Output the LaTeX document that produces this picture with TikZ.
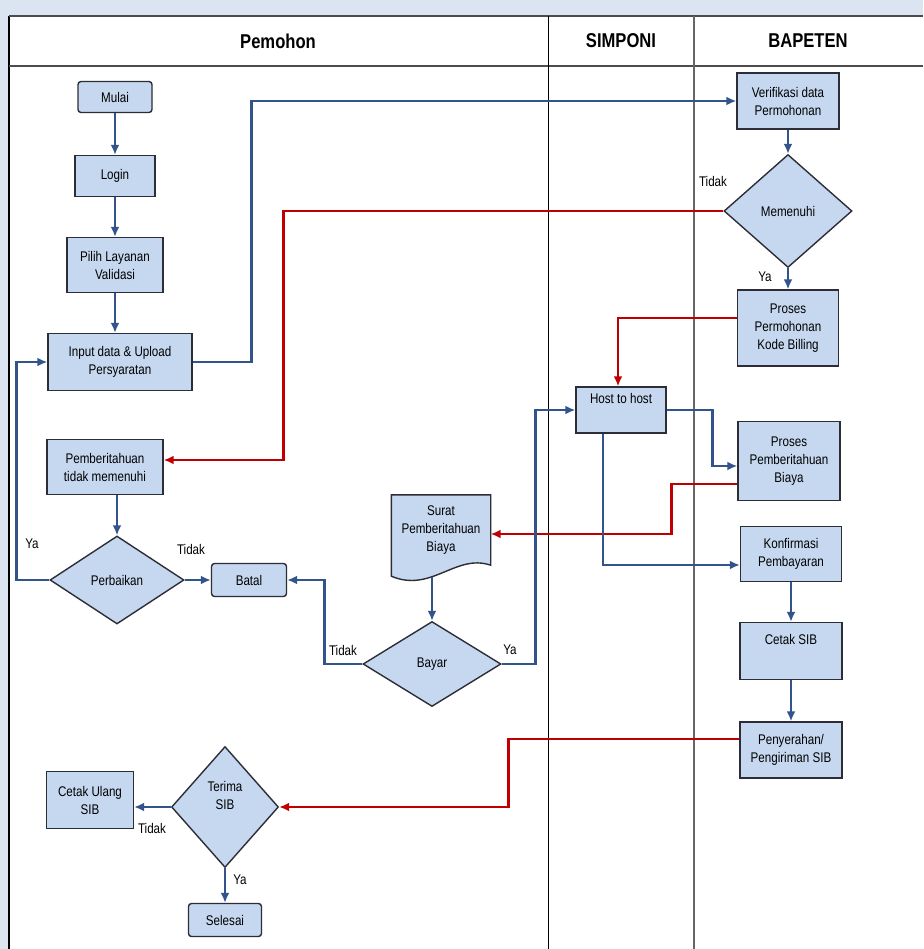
\documentclass[tikz,border=0pt]{standalone}
\usepackage{fontspec}
\setmainfont{Liberation Sans}[FakeStretch=0.83]
\usetikzlibrary{shapes.geometric,arrows.meta,backgrounds,calc}
\definecolor{pagebg}{RGB}{219,229,241}
\definecolor{boxfill}{RGB}{198,216,240}
\definecolor{boxline}{RGB}{45,45,55}
\definecolor{flowblue}{RGB}{50,84,138}
\definecolor{backred}{RGB}{192,0,0}

\begin{document}
\begin{tikzpicture}[x=1pt, y=-1pt,
  every node/.style = {font=\fontsize{14}{18}\selectfont, align=center, inner sep=0pt},
  box/.style = {shape=rectangle, draw=boxline, fill=boxfill, line width=1.4pt},
  term/.style = {box, rounded corners=3pt},
  decide/.style = {shape=diamond, draw=boxline, fill=boxfill, line width=1.4pt},
  lane/.style = {font=\fontsize{20}{22}\selectfont\bfseries},
  flow/.style = {draw=flowblue, line width=2.8pt, -{Latex[length=10pt,width=9pt]}},
  back/.style = {draw=backred, line width=2.8pt, -{Latex[length=10pt,width=9pt]}}]
  \useasboundingbox (0,0) rectangle (923,949);

  \begin{scope}[on background layer]
    \fill[pagebg] (0,0) rectangle (923,949);
    \fill[white] (9,16) rectangle (923,949);
    \draw[line width=1.5pt] (9,16) -- (9,949);
    \draw[line width=2.5pt, black!70] (9,16) -- (923,16);
    \draw[line width=2.5pt, black!70] (9,66) -- (923,66);
    \draw[line width=1pt] (548,16) -- (548,949);
    \draw[line width=1.5pt, black!60] (694,16) -- (694,949);
  \end{scope}

  \node[lane] (hpemohon) at (278,41) {Pemohon};
  \node[lane] (hsimponi) at (621,41) {SIMPONI};
  \node[lane] (hbapeten) at (808,41) {BAPETEN};

  \node[term, minimum width=74, minimum height=31] (mulai) at (115,97) {Mulai};
  \node[box, minimum width=80, minimum height=41] (login) at (115,176) {Login};
  \node[box, minimum width=96, minimum height=55] (pilih) at (115,265) {Pilih Layanan\\Validasi};
  \node[box, minimum width=144, minimum height=57] (input) at (120,362) {Input data \& Upload\\Persyaratan};
  \node[box, minimum width=116, minimum height=55] (tdkpenuh) at (105,467) {Pemberitahuan\\tidak memenuhi};
  \node[decide, minimum width=134, minimum height=88] (perbaikan) at (117,580) {Perbaikan};
  \node[term, minimum width=75, minimum height=33] (batal) at (249,580) {Batal};
  \node[minimum width=99, minimum height=70] (surat) at (441,530) {Surat\\Pemberitahuan\\Biaya};
  \node[decide, minimum width=138, minimum height=85] (bayar) at (432,664) {Bayar};
  \node[decide, minimum width=107, minimum height=121] (terima) at (225,807) {Terima\\SIB\\\strut};
  \node[box, minimum width=87, minimum height=57] (cetakulang) at (90,800) {Cetak Ulang\\SIB};
  \node[term, minimum width=73, minimum height=33] (selesai) at (225,920) {Selesai};

  \node[box, minimum width=90, minimum height=46] (host) at (621,410) {Host to host\\\strut};

  \node[box, minimum width=102, minimum height=56] (verif) at (788,101) {Verifikasi data\\Permohonan};
  \node[decide, minimum width=128, minimum height=113] (memenuhi) at (788,211) {Memenuhi};
  \node[box, minimum width=101, minimum height=76] (prosesmohon) at (788,328) {Proses\\Permohonan\\Kode Billing};
  \node[box, minimum width=102, minimum height=79] (prosesbiaya) at (789,461) {Proses\\Pemberitahuan\\Biaya};
  \node[box, minimum width=101, minimum height=55] (konfirmasi) at (791,554) {Konfirmasi\\Pembayaran};
  \node[box, minimum width=102, minimum height=57] (cetaksib) at (791,651) {Cetak SIB\\\strut};
  \node[box, minimum width=102, minimum height=56] (serah) at (791,750) {Penyerahan/\\Pengiriman SIB};

  \node (tdkmenuhi) at (713,181) {Tidak};
  \node (yamenuhi) at (765,277) {Ya};
  \node (yaperbaikan) at (32,544) {Ya};
  \node (tdkperbaikan) at (191,549) {Tidak};
  \node (tdkbayar) at (343,650) {Tidak};
  \node (yabayar) at (510,650) {Ya};
  \node (tdkterima) at (152,828) {Tidak};
  \node (yaterima) at (240,880) {Ya};

  \begin{scope}[on background layer]
    \draw[draw=boxline, fill=boxfill, line width=1.4pt]
      (surat.north west) -- (surat.north east) -- (surat.south east)
      .. controls ($(surat.south east)+(-35,-12)$) and ($(surat.south west)+(40,28)$)
      .. ($(surat.south west)+(0,11)$) -- cycle;
  \end{scope}
  \coordinate (suratfoot) at ($(surat.south)+(-9,12)$);

  \draw[flow] (mulai) -- (login);
  \draw[flow] (login) -- (pilih);
  \draw[flow] (pilih) -- (pilih |- input.north);
  \draw[flow] (input.east) -- ++(59,0) |- (verif.west);
  \draw[flow] (verif) -- (memenuhi);
  \draw[back] (memenuhi.west) -- ++(-440,0) |- ([yshift=7pt]tdkpenuh.east);
  \draw[flow] (memenuhi) -- (prosesmohon);
  \draw[back] ([yshift=10pt]prosesmohon.west) -| ([xshift=-3pt]host.north);
  \draw[flow] (host.east) -- ++(46,0) |- ([yshift=-5pt]prosesbiaya.west);
  \draw[back] ([yshift=-23pt]prosesbiaya.west) -- ++(-66,0) |- ([yshift=-4pt]surat.east);
  \draw[flow] ([xshift=-18pt]host.south) |- ([yshift=-11pt]konfirmasi.west);
  \draw[flow] (konfirmasi) -- (cetaksib);
  \draw[flow] (cetaksib) -- (serah);
  \draw[back] ([yshift=11pt]serah.west) -- ++(-231,0) |- (terima.east);
  \draw[flow] (terima.west) -- (terima.west -| cetakulang.east);
  \draw[flow] (terima) -- (selesai);
  \draw[flow] (tdkpenuh.south -| perbaikan.north) -- (perbaikan.north);
  \draw[flow] (perbaikan.west) -- ++(-33,0) |- (input.west);
  \draw[flow] (perbaikan.east) -- (batal.west);
  \draw[flow] (suratfoot) -- (bayar.north);
  \draw[flow] (bayar.west) -- ++(-38,0) |- (batal.east);
  \draw[flow] (bayar.east) -- ++(34,0) |- (host.west);

\end{tikzpicture}
\end{document}
